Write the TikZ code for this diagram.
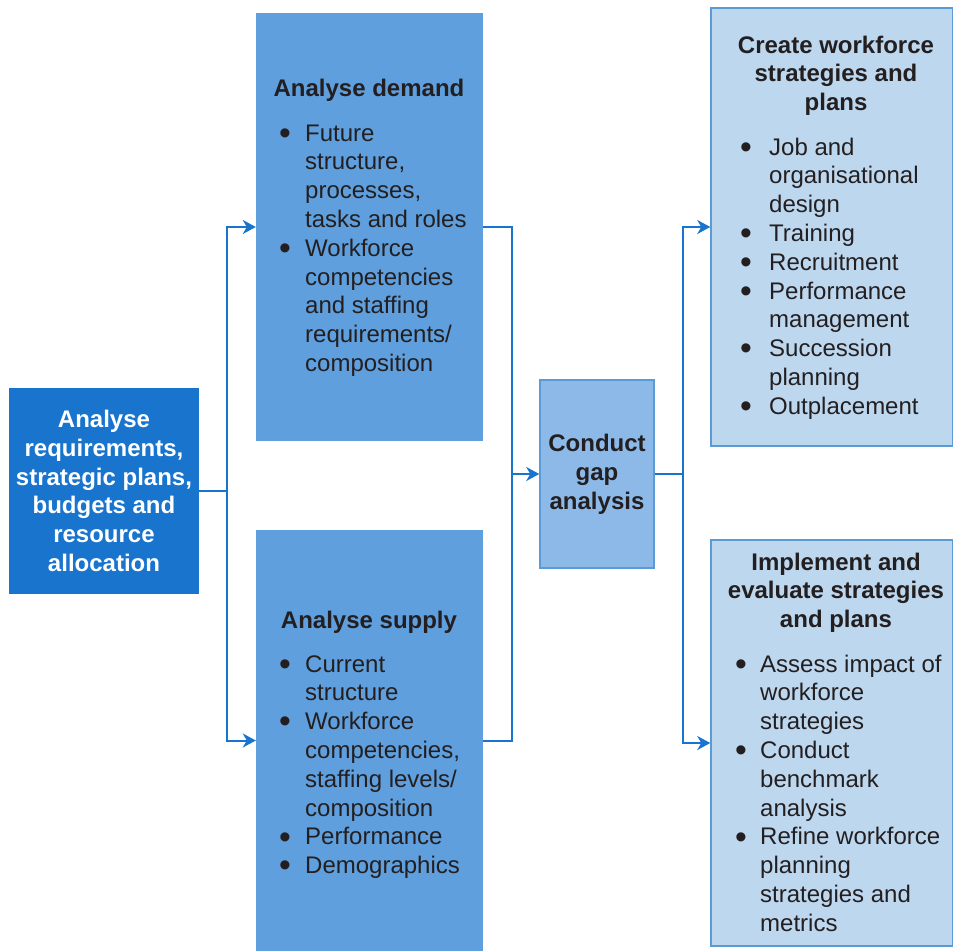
\documentclass[tikz,border=0pt]{standalone}
\usepackage{fontspec}
\setmainfont{Liberation Sans}
\usetikzlibrary{arrows.meta}
\definecolor{dkblue}{HTML}{1874CD}
\definecolor{midblue}{HTML}{5F9FDD}
\definecolor{gapblue}{HTML}{8DB9E8}
\definecolor{ltblue}{HTML}{BDD7EF}
\definecolor{edgeblue}{HTML}{5B9BD5}
\definecolor{txt}{HTML}{231F20}
\newcommand{\bodyfont}{\fontsize{24}{28.8}\selectfont}
\newcommand{\bl}{\hspace*{-1pt}\smash{\raisebox{-3.2pt}{\scalebox{1.4}{\textbullet}}}}
\tikzset{
  boxdark/.style={fill=dkblue, draw=none, inner sep=0pt, text=white, font=\bodyfont\bfseries, align=center},
  boxmid/.style={fill=midblue, draw=none, inner sep=0pt},
  boxgap/.style={fill=gapblue, draw=edgeblue, line width=1.5pt, inner sep=0pt, text=txt, font=\bodyfont\bfseries, align=center},
  boxlight/.style={fill=ltblue, draw=edgeblue, line width=1.5pt, inner sep=0pt},
  titletext/.style={anchor=base, inner sep=0pt, text=txt, font=\bodyfont\bfseries},
  listtext/.style={anchor=base west, inner sep=0pt, text=txt, font=\bodyfont},
  conn/.style={draw=dkblue, line width=2pt},
  arr/.style={conn, -{Stealth[length=13pt, width=14pt, inset=4pt]}}
}
\begin{document}
\begin{tikzpicture}[x=1pt, y=-1pt]
\useasboundingbox (0,0) rectangle (953,951);
% boxes
\node[boxdark, minimum width=190pt, minimum height=206pt] (req) at (104,491)
  {Analyse\\requirements,\\strategic plans,\\budgets and\\resource\\allocation};
\node[boxmid, minimum width=227pt, minimum height=428pt] (dem) at (369.5,227) {};
\node[boxmid, minimum width=227pt, minimum height=421pt] (sup) at (369.5,740.5) {};
\node[boxgap, minimum width=114pt, minimum height=188pt] (gap) at (597,474)
  {Conduct\\gap\\analysis};
\node[boxlight, minimum width=242pt, minimum height=438pt] (cre) at (832,227) {};
\node[boxlight, minimum width=242pt, minimum height=406pt] (imp) at (832,743) {};
% texts
\node[titletext] (demt) at (369,96) {Analyse demand};
\node[listtext] (deml) at (280,141) {\begin{tabular}[t]{@{}p{25pt}@{}l@{}}
\bl & Future\\
 & structure,\\
 & processes,\\
 & tasks and roles\\
\bl & Workforce\\
 & competencies\\
 & and staffing\\
 & requirements/\\
 & composition
\end{tabular}};
\node[titletext] (supt) at (369,628) {Analyse supply};
\node[listtext] (supl) at (280,672) {\begin{tabular}[t]{@{}p{25pt}@{}l@{}}
\bl & Current\\
 & structure\\
\bl & Workforce\\
 & competencies,\\
 & staffing levels/\\
 & composition\\
\bl & Performance\\
\bl & Demographics
\end{tabular}};
\node[titletext] (cret) at (836,53) {\begin{tabular}[t]{@{}c@{}}Create workforce\\strategies and\\plans\end{tabular}};
\node[listtext] (crel) at (741,155) {\begin{tabular}[t]{@{}p{28pt}@{}l@{}}
\bl & Job and\\
 & organisational\\
 & design\\
\bl & Training\\
\bl & Recruitment\\
\bl & Performance\\
 & management\\
\bl & Succession\\
 & planning\\
\bl & Outplacement
\end{tabular}};
\node[titletext] (impt) at (836,570) {\begin{tabular}[t]{@{}c@{}}Implement and\\evaluate strategies\\and plans\end{tabular}};
\node[listtext] (impl) at (736,672) {\begin{tabular}[t]{@{}p{24pt}@{}l@{}}
\bl & Assess impact of\\
 & workforce\\
 & strategies\\
\bl & Conduct\\
 & benchmark\\
 & analysis\\
\bl & Refine workforce\\
 & planning\\
 & strategies and\\
 & metrics
\end{tabular}};
% connectors
\coordinate (j1) at (227,491);
\coordinate (j2) at (512,474);
\coordinate (j3) at (683,474);
\draw[conn] (req.east) -- (j1);
\draw[arr] (j1) |- (dem.west);
\draw[arr] (j1) |- (sup.west);
\draw[conn] (dem.east) -| (j2);
\draw[conn] (sup.east) -| (j2);
\draw[arr] (j2) -- (gap.west);
\draw[conn] (gap.east) -- (j3);
\draw[arr] (j3) |- (cre.west);
\draw[arr] (j3) |- (imp.west);
\end{tikzpicture}
\end{document}
